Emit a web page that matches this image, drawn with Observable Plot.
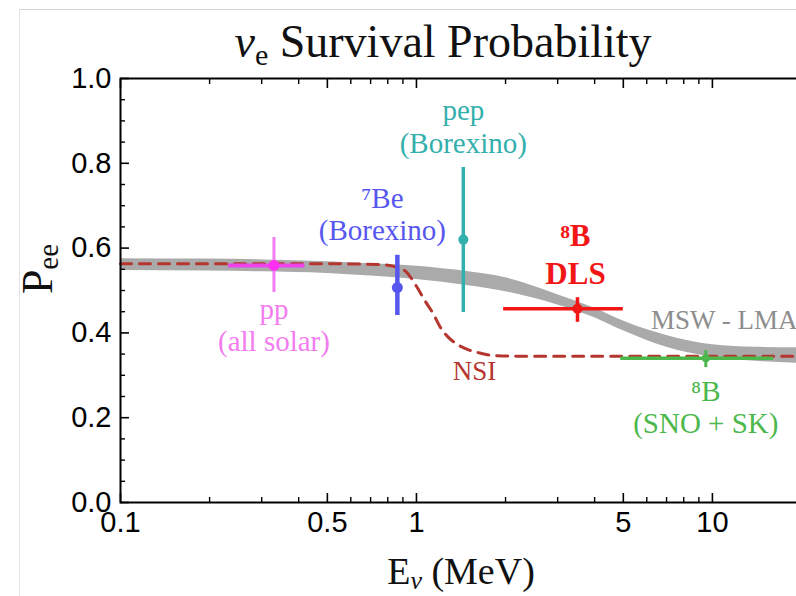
<!DOCTYPE html>
<html>
<head>
<meta charset="utf-8">
<script src="https://cdn.jsdelivr.net/npm/d3@7"></script>
<script src="https://cdn.jsdelivr.net/npm/@observablehq/plot@0.6"></script>
<style>
  html, body { margin: 0; padding: 0; background: #fff; overflow: hidden; }
  #chart { position: relative; width: 796px; height: 596px; overflow: hidden; }
  #chart svg { max-width: none; display: block; }
  #edge { position: absolute; left: 19px; top: 9px; right: 0; bottom: 0;
          border-left: 1px solid #e2e2e2; border-top: 1px solid #d6d6d6; pointer-events: none; }
</style>
</head>
<body>
<div id="chart"><div id="edge"></div></div>
<script>
// MSW-LMA prediction band (lower / upper edge of P_ee vs neutrino energy, MeV)
const bandE  = [0.1, 0.2, 0.3, 0.5, 0.7, 1.0, 1.5, 2.0, 3.0, 4.0, 5.0, 7.0, 10, 14, 20];
const bandLo = [0.547, 0.546, 0.544, 0.540, 0.534, 0.526, 0.511, 0.497, 0.466, 0.436, 0.405, 0.366, 0.343, 0.333, 0.328];
const bandHi = [0.575, 0.574, 0.572, 0.568, 0.563, 0.557, 0.544, 0.530, 0.490, 0.458, 0.428, 0.394, 0.372, 0.366, 0.365];

// NSI curve
const nsiE = [0.1, 0.5, 0.75, 0.85, 0.92, 1.0, 1.07, 1.14, 1.2, 1.28, 1.38, 1.5, 1.65, 1.8, 2.2, 20];
const nsiP = [0.563, 0.563, 0.561, 0.556, 0.545, 0.51, 0.475, 0.445, 0.415, 0.39, 0.372, 0.36, 0.352, 0.347, 0.345, 0.345];

// Measurements: central energy / P_ee with vertical and horizontal error ranges
const expKeys = ["pp", "Be7", "pep", "DLS", "SNOSK"];
const expE    = [0.33, 0.862, 1.44, 3.5, 9.5];
const expP    = [0.559, 0.507, 0.62, 0.457, 0.34];
const expPlo  = [0.495, 0.441, 0.448, 0.425, 0.318];
const expPhi  = [0.625, 0.583, 0.79, 0.483, 0.358];
const expElo  = [0.232, null, null, 1.97, 4.9];
const expEhi  = [0.42, null, null, 5.0, 16.1];
const expText = ["pp\n(all solar)", "\u2077Be\n(Borexino)", "pep\n(Borexino)", "\u2078B\nDLS", "\u2078B\n(SNO + SK)"];

// Axis ticks
const xMajor = [0.1, 0.5, 1, 5, 10];
const xMajorText = ["0.1", "0.5", "1", "5", "10"];
const xMinor = [0.2, 0.3, 0.4, 0.6, 0.7, 0.8, 0.9, 2, 3, 4, 6, 7, 8, 9, 20];
const yMajor = [0, 0.2, 0.4, 0.6, 0.8, 1.0];
const yMinor = [0.05, 0.1, 0.15, 0.25, 0.3, 0.35, 0.45, 0.5, 0.55, 0.65, 0.7, 0.75, 0.85, 0.9, 0.95];

// Curve annotations
const annoText = ["MSW - LMA", "NSI"];
const annoE = [6.2, 1.57];
const annoP = [0.41, 0.288];

const colors = {
  band: "#aaaaaa", nsi: "#b5362f", msw: "#8e8e8e",
  pp: "#f37cf0", ppDot: "#ff30f2", ppH: "#ee44ee",
  Be7: "#5757f0", pep: "#33b0ad", DLS: "#f21616", SNOSK: "#4cb84c"
};
const vWidth = {pp: 3, Be7: 4.5, pep: 3.5, DLS: 3.5, SNOSK: 3};
const hWidth = {pp: 4, DLS: 3.5, SNOSK: 3.5};
const dotR = {pp: 5.5, Be7: 5.5, pep: 5, DLS: 5, SNOSK: 4};

const band = bandE.map((E, i) => ({E, lo: bandLo[i], hi: bandHi[i]}));
const nsi = nsiE.map((E, i) => ({E, P: nsiP[i]}));
const meas = expKeys.map((key, i) => ({
  key, E: expE[i], P: expP[i], lo: expPlo[i], hi: expPhi[i],
  Elo: expElo[i], Ehi: expEhi[i], text: expText[i]
}));
const anno = annoText.map((text, i) => ({text, E: annoE[i], P: annoP[i]}));
const xTickLabels = xMajor.map((E, i) => ({E, text: xMajorText[i]}));

const serif = "Liberation Serif, Times New Roman, serif";
const sans = "Liberation Sans, Arial, Helvetica, sans-serif";
const byKey = k => meas.filter(d => d.key === k);

const labelFont = {fontFamily: serif, fontSize: 29, lineHeight: 1.12, textAnchor: "middle"};

const chart = Plot.plot({
  width: 802,
  height: 596,
  marginLeft: 120,
  marginRight: 1,
  marginTop: 78,
  marginBottom: 94,
  x: {type: "log", domain: [0.1, 20], label: null},
  y: {domain: [0, 1], label: null},
  color: {type: "identity"},
  r: {type: "identity"},
  marks: [
    Plot.areaY(band, {x: "E", y1: "lo", y2: "hi", fill: colors.band, curve: "monotone-x"}),
    Plot.line(nsi, {x: "E", y: "P", stroke: colors.nsi, strokeWidth: 3, strokeDasharray: "11,8", curve: "monotone-x"}),

    // error bars
    Plot.ruleX(meas, {x: "E", y1: "lo", y2: "hi",
      stroke: d => colors[d.key], strokeWidth: d => vWidth[d.key]}),
    Plot.ruleY(meas.filter(d => d.Elo != null), {y: "P", x1: "Elo", x2: "Ehi",
      stroke: d => d.key === "pp" ? colors.ppH : colors[d.key], strokeWidth: d => hWidth[d.key]}),
    Plot.dot(meas, {x: "E", y: "P", r: d => dotR[d.key],
      fill: d => d.key === "pp" ? colors.ppDot : colors[d.key], stroke: null}),

    // measurement labels
    Plot.text(byKey("pp"), {x: "E", y: "lo", text: "text", fill: colors.pp, lineAnchor: "top", dy: 3, ...labelFont}),
    Plot.text(byKey("Be7"), {x: "E", y: "hi", text: "text", fill: colors.Be7, lineAnchor: "bottom", dy: -15, dx: -15, ...labelFont}),
    Plot.text(byKey("pep"), {x: "E", y: "hi", text: "text", fill: colors.pep, lineAnchor: "bottom", dy: -15, ...labelFont}),
    Plot.text(byKey("DLS"), {x: "E", y: "hi", text: "text", fill: colors.DLS, lineAnchor: "bottom", dy: -14, dx: -2,
      fontFamily: serif, fontSize: 31, fontWeight: "bold", lineHeight: 1.22, textAnchor: "middle"}),
    Plot.text(byKey("SNOSK"), {x: "E", y: "lo", text: "text", fill: colors.SNOSK, lineAnchor: "top", dy: 10, ...labelFont}),

    // curve annotations
    Plot.text(anno.slice(0, 1), {x: "E", y: "P", text: "text", fill: colors.msw, textAnchor: "start", lineAnchor: "bottom",
      fontFamily: serif, fontSize: 27}),
    Plot.text(anno.slice(1), {x: "E", y: "P", text: "text", fill: colors.nsi, textAnchor: "middle", lineAnchor: "bottom",
      fontFamily: serif, fontSize: 27}),

    // frame ticks (pointing inward)
    Plot.axisX(xMajor, {anchor: "bottom", tickSize: -9, tickFormat: () => "", strokeWidth: 1.6, label: null}),
    Plot.axisX(xMinor, {anchor: "bottom", tickSize: -5, tickFormat: () => "", strokeWidth: 1.4, label: null}),
    Plot.axisX(xMajor, {anchor: "top", tickSize: -9, tickFormat: () => "", strokeWidth: 1.6, label: null}),
    Plot.axisX(xMinor, {anchor: "top", tickSize: -5, tickFormat: () => "", strokeWidth: 1.4, label: null}),
    Plot.axisY(yMajor, {anchor: "left", tickSize: -9, tickPadding: 18, tickFormat: d => d.toFixed(1),
      fontSize: 29, fontFamily: sans, strokeWidth: 1.6, label: null, fill: "#000"}),
    Plot.axisY(yMinor, {anchor: "left", tickSize: -5, tickFormat: () => "", strokeWidth: 1.4, label: null}),

    // x tick labels under the frame
    Plot.text(xTickLabels, {x: "E", text: "text", frameAnchor: "bottom", lineAnchor: "top", dy: 9,
      fontSize: 29, fontFamily: sans, fill: "#000"}),

    Plot.frame({stroke: "#000", strokeWidth: 2})
  ]
});

document.getElementById("chart").appendChild(chart);

// Title and axis titles with sub/superscripts
const svg = d3.select(chart);

const title = svg.append("text")
  .attr("x", 443).attr("y", 57)
  .attr("text-anchor", "middle")
  .attr("font-family", serif).attr("font-size", 46).attr("fill", "#111");
title.append("tspan").attr("font-style", "italic").text("\u03bd");
title.append("tspan").attr("font-size", 30).attr("dy", 8).text("e");
title.append("tspan").attr("dy", -8).text(" Survival Probability");

const yTitle = svg.append("text")
  .attr("transform", "translate(52,269) rotate(-90)")
  .attr("text-anchor", "middle")
  .attr("font-family", serif).attr("font-size", 44).attr("fill", "#111");
yTitle.append("tspan").text("P");
yTitle.append("tspan").attr("font-size", 29).attr("dy", 6).text("ee");

const xTitle = svg.append("text")
  .attr("x", 461).attr("y", 584)
  .attr("text-anchor", "middle")
  .attr("font-family", serif).attr("font-size", 38).attr("fill", "#111");
xTitle.append("tspan").text("E");
xTitle.append("tspan").attr("font-size", 26).attr("font-style", "italic").attr("dy", 5).text("\u03bd");
xTitle.append("tspan").attr("dy", -5).text(" (MeV)");
</script>
</body>
</html>
